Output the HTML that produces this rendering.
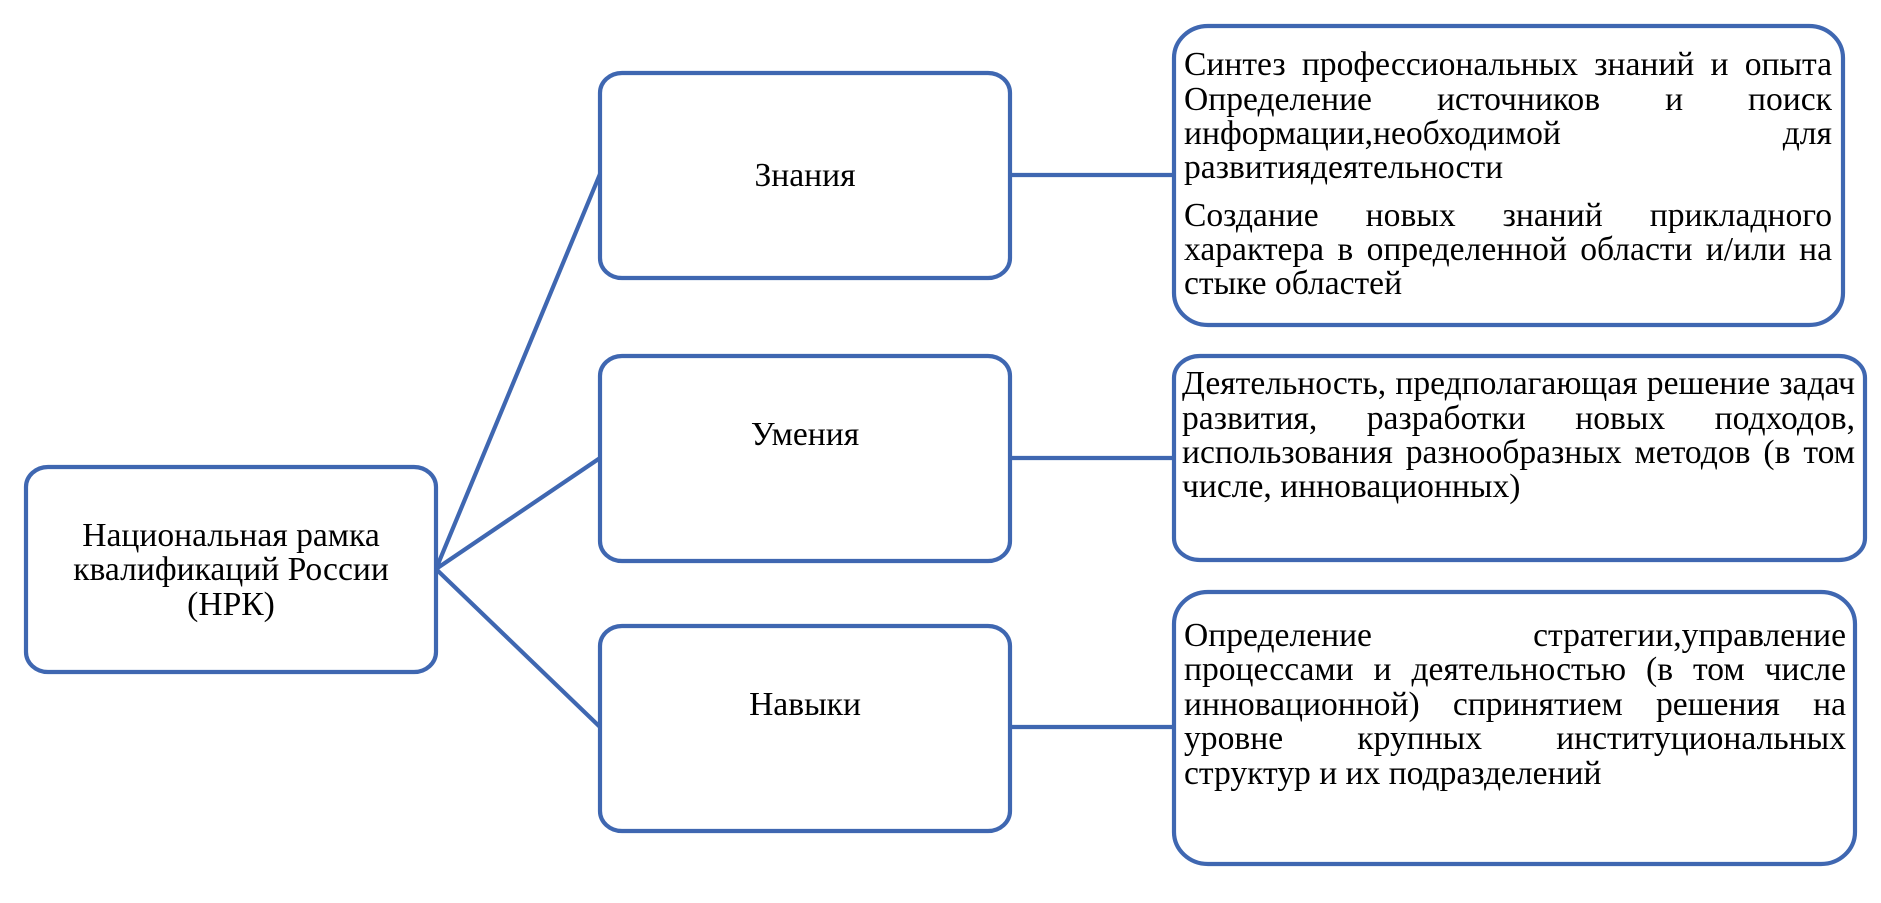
<!DOCTYPE html>
<html lang="ru">
<head>
<meta charset="utf-8">
<title>НРК</title>
<style>
html,body{margin:0;padding:0;background:#fff;}
#p{position:relative;width:1881px;height:903px;overflow:hidden;background:#fff;font-family:"Liberation Serif","Noto Serif CJK SC",serif;color:#000;}
svg{position:absolute;left:0;top:0;}
.l{position:absolute;font-size:33.6px;line-height:34px;height:34px;white-space:nowrap;}
.j{white-space:normal;text-align:justify;text-align-last:justify;}
.c{text-align:center;}
</style>
</head>
<body>
<div id="p">
<svg width="1881" height="903" viewBox="0 0 1881 903">
<g fill="none" stroke="#3f67b1" stroke-width="4.2">
<rect x="26" y="467" width="410" height="205" rx="22" ry="20" fill="#fff"/>
<rect x="600" y="73" width="410" height="205" rx="22" ry="20" fill="#fff"/>
<rect x="600" y="356" width="410" height="205" rx="22" ry="20" fill="#fff"/>
<rect x="600" y="626" width="410" height="205" rx="22" ry="20" fill="#fff"/>
<rect x="1174" y="26" width="669" height="299" rx="34" ry="32" fill="#fff"/>
<rect x="1174" y="356" width="691" height="204" rx="26" ry="22" fill="#fff"/>
<rect x="1174" y="592" width="681" height="272" rx="34" ry="32" fill="#fff"/>
<path d="M436 569L600 174M436 569L600 458M436 569L600 727M1010 175H1174M1010 458H1174M1010 727H1174"/>
</g>
</svg>

<div class="l c" style="left:26px;width:410px;top:519px">Национальная рамка</div>
<div class="l c" style="left:26px;width:410px;top:553px">квалификаций России</div>
<div class="l c" style="left:26px;width:410px;top:588px">(НРК)</div>
<div class="l c" style="left:600px;width:410px;top:159px">Знания</div>
<div class="l c" style="left:600px;width:410px;top:418px">Умения</div>
<div class="l c" style="left:600px;width:410px;top:688px">Навыки</div>

<div class="l j" style="left:1184px;width:648px;top:48px">Синтез профессиональных знаний и опыта</div>
<div class="l j" style="left:1184px;width:648px;top:83px">Определение источников и поиск</div>
<div class="l j" style="left:1184px;width:648px;top:117px">информации,необходимой для</div>
<div class="l" style="left:1184px;top:151px">развитиядеятельности</div>
<div class="l j" style="left:1184px;width:648px;top:199px">Создание новых знаний прикладного</div>
<div class="l j" style="left:1184px;width:648px;top:233px">характера в определенной области и/или на</div>
<div class="l" style="left:1184px;top:267px">стыке областей</div>

<div class="l j" style="left:1182px;width:673px;top:367px">Деятельность, предполагающая решение задач</div>
<div class="l j" style="left:1182px;width:673px;top:402px">развития, разработки новых подходов,</div>
<div class="l j" style="left:1182px;width:673px;top:436px">использования разнообразных методов (в том</div>
<div class="l" style="left:1182px;top:470px">числе, инновационных)</div>

<div class="l j" style="left:1184px;width:662px;top:619px">Определение стратегии,управление</div>
<div class="l j" style="left:1184px;width:662px;top:653px">процессами и деятельностью (в том числе</div>
<div class="l j" style="left:1184px;width:662px;top:688px">инновационной) спринятием решения на</div>
<div class="l j" style="left:1184px;width:662px;top:722px">уровне крупных институциональных</div>
<div class="l" style="left:1184px;top:757px">структур и их подразделений</div>
</div>
</body>
</html>
